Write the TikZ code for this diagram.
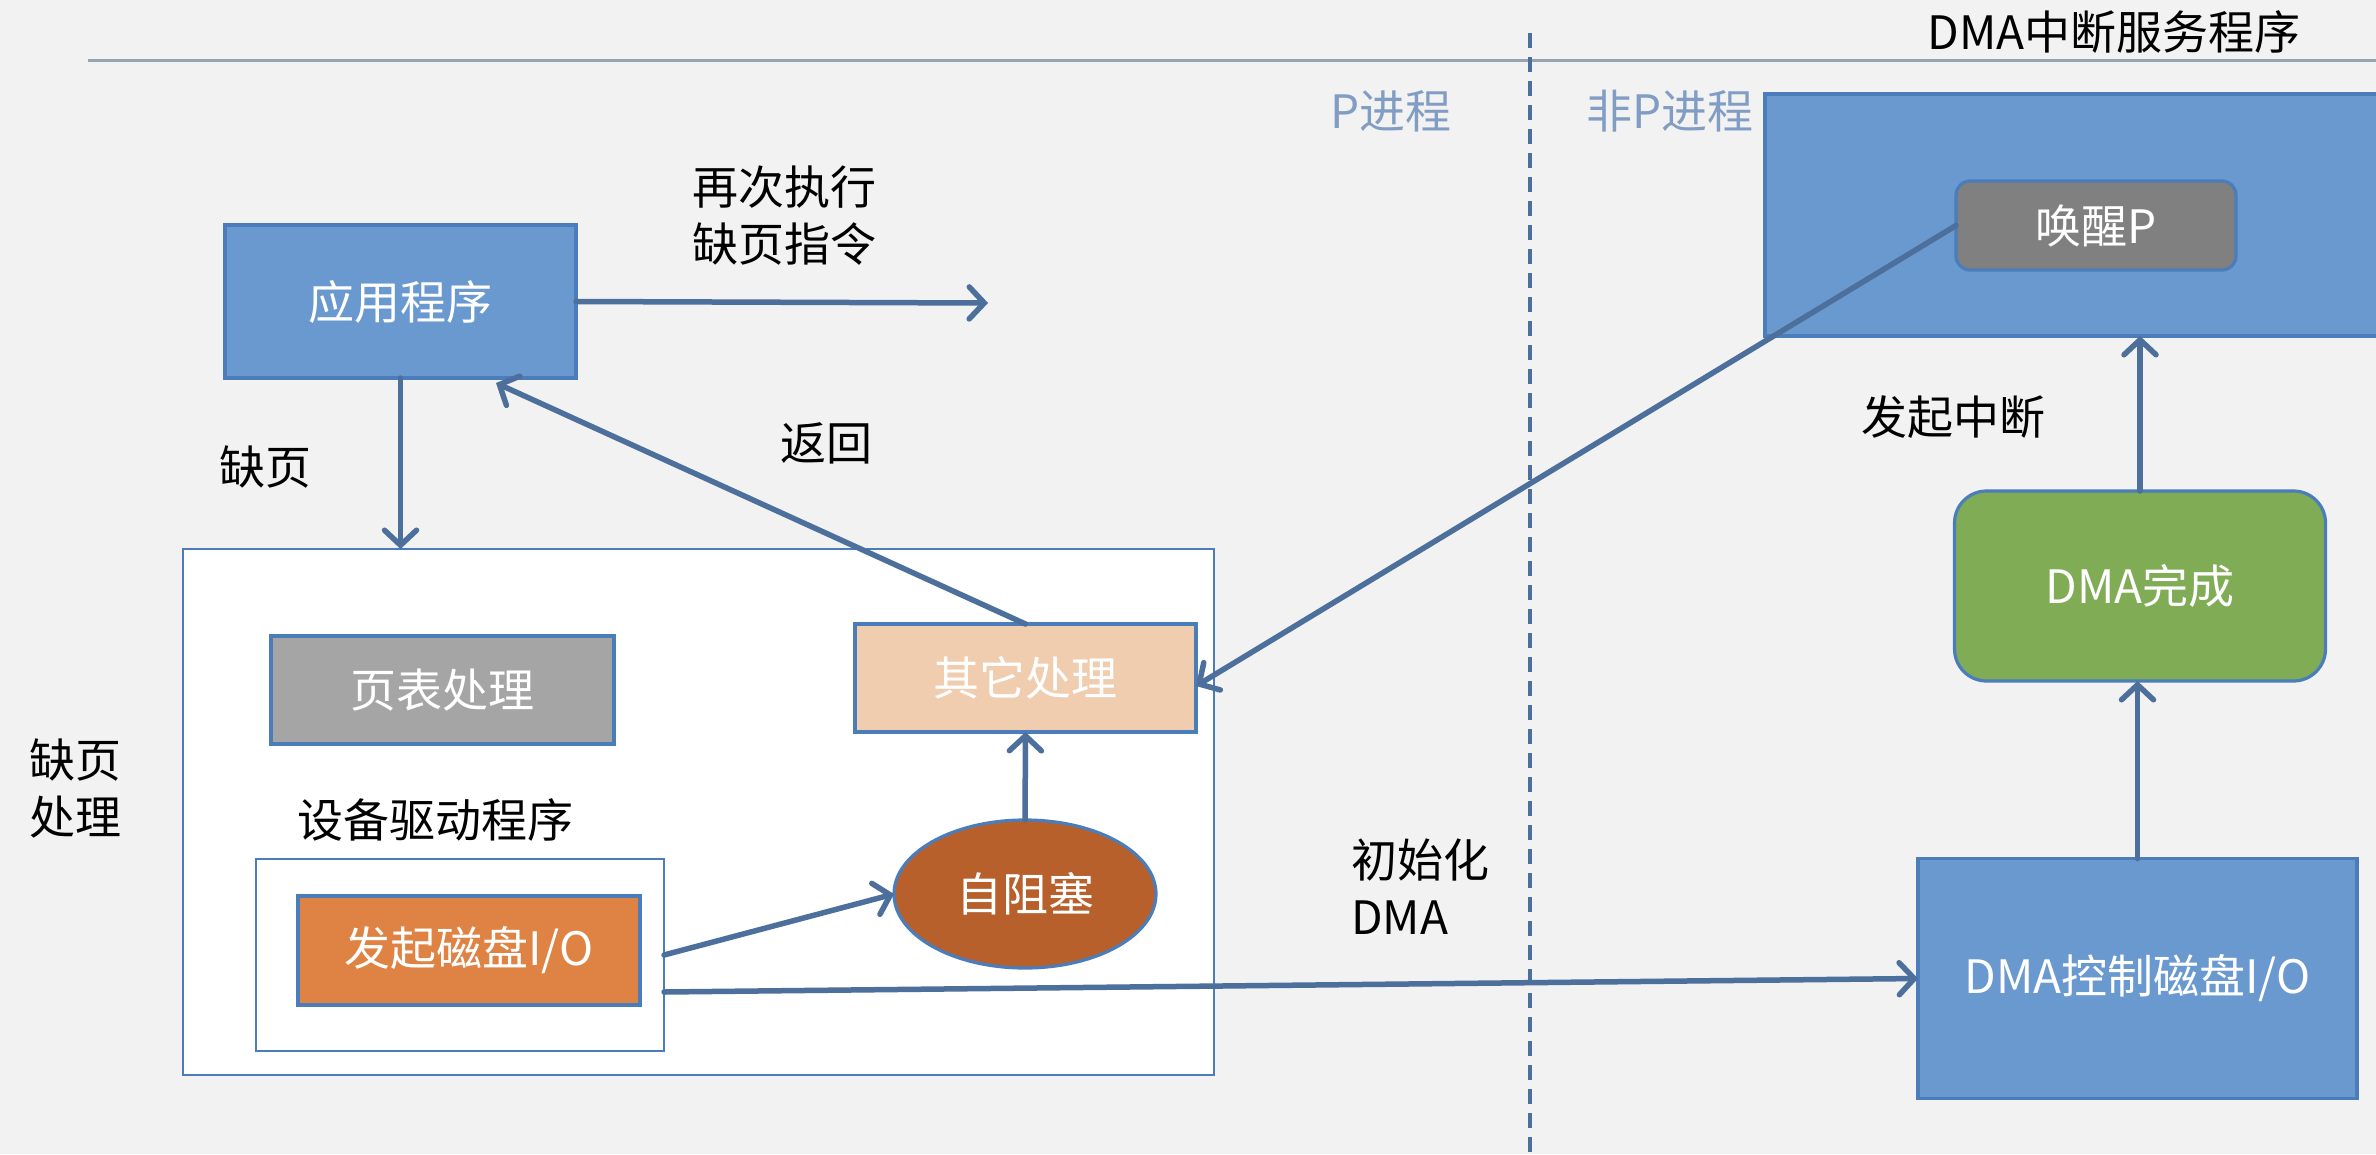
\documentclass[tikz,border=0pt]{standalone}
\usepackage{fontspec}
\setmainfont{Noto Sans CJK SC}
\usetikzlibrary{arrows.meta,shapes.geometric}
\definecolor{bgc}{HTML}{F2F2F2}
\definecolor{arrc}{HTML}{4C6F9B}
\definecolor{bordc}{HTML}{4A7DBA}
\definecolor{bluef}{HTML}{6A99CF}
\definecolor{grayf}{HTML}{A5A5A5}
\definecolor{peachf}{HTML}{F1CDB0}
\definecolor{orangef}{HTML}{DF8344}
\definecolor{brownf}{HTML}{B7602B}
\definecolor{greenf}{HTML}{7FAC55}
\definecolor{wakef}{HTML}{808080}
\definecolor{proc}{HTML}{829DC4}
\definecolor{rulec}{HTML}{97A3AE}
\begin{document}
\begin{tikzpicture}[x=1pt,y=-1pt,
  txt/.style={font=\fontsize{46}{57}\selectfont, inner sep=0pt},
  boxs/.style={txt, draw=bordc, line width=3.2pt, inner sep=0pt, outer sep=0pt, text=white},
  arr/.style={draw=arrc, line width=5.5pt, line cap=round, -{Straight Barb[length=15pt,width=32pt,line cap=round]}},
  dashline/.style={draw=arrc, line width=4pt, dash pattern=on 15pt off 9pt}]
\useasboundingbox (0,0) rectangle (2376,1154);
\clip (0,0) rectangle (2376,1154);
\fill[bgc] (0,0) rectangle (2376,1154);

% top rule and dashed separator
\draw[rulec, line width=3pt] (88,60) -- (2376,60);
\draw[dashline] (1530,33) -- (1530,1154);

% process labels
\node[txt, text=proc] (pp) at (1391,111) {P进程};
\node[txt, text=proc] (npp) at (1670,111) {非P进程};

% ISR box
\node[boxs, fill=bluef, minimum width=635pt, minimum height=242pt] (isr) at (2082.5,215) {};
\node[txt] (isrlabel) at (2114,32) {DMA中断服务程序};
\node[boxs, fill=wakef, rounded corners=14pt, minimum width=280pt, minimum height=89pt] (wake) at (2096,225.5) {唤醒P};

% application
\node[boxs, fill=bluef, minimum width=351pt, minimum height=153pt] (app) at (400.5,301.5) {应用程序};
\coordinate (reexec) at (988,303);
\node[txt, align=center] (relabel) at (784,216) {再次执行\\缺页指令};
\node[txt] (pflabel) at (265,467) {缺页};
\node[txt] (retlabel) at (826,443) {返回};

% page fault handling block
\node[draw=bordc, fill=white, line width=2.8pt, minimum width=1031pt, minimum height=526pt, inner sep=0pt, outer sep=0pt] (big) at (698.5,812) {};
\node[txt, align=center] (pfh) at (75,788) {缺页\\处理};
\node[boxs, fill=grayf, minimum width=343pt, minimum height=108pt] (pt) at (442.5,690) {页表处理};
\node[boxs, fill=peachf, minimum width=341pt, minimum height=108pt] (other) at (1025.5,678) {其它处理};
\node[txt] (drv) at (435,820) {设备驱动程序};
\node[draw=bordc, fill=white, line width=2.8pt, minimum width=408pt, minimum height=192pt, inner sep=0pt, outer sep=0pt] (inner) at (460,955) {};
\node[boxs, fill=orangef, minimum width=342pt, minimum height=109pt] (io) at (469,950.5) {发起磁盘I/O};
\node[boxs, ellipse, fill=brownf, minimum width=262pt, minimum height=148pt] (block) at (1025,894) {自阻塞};

% DMA side
\node[txt, align=left] (initdma) at (1420,887) {初始化\\DMA};
\node[boxs, fill=bluef, minimum width=439pt, minimum height=240pt] (dmactl) at (2137.5,978.5) {DMA控制磁盘I/O};
\node[boxs, fill=greenf, rounded corners=32pt, minimum width=371pt, minimum height=190pt] (dmadone) at (2140,586) {DMA完成};
\node[txt] (intlabel) at (1953,417) {发起中断};

% connectors
\coordinate (rettip) at (496,383);
\draw[arr] (app.east) -- (reexec);
\draw[arr] (app.south) -- (app.south |- big.north);
\draw[arr] (other.north) -- (rettip);
\draw[arr] (block.north) -- (other.south);
\draw[arr] (inner.east) -- (block.west);
\draw[arr] ([yshift=-37pt]inner.east) -- (dmactl.west);
\draw[arr] (wake.west) -- ([yshift=-8pt]other.east);
\draw[arr] (dmactl.north) -- (dmactl.north |- dmadone.south);
\draw[arr] (dmadone.north) -- (dmadone.north |- isr.south);
\end{tikzpicture}
\end{document}
